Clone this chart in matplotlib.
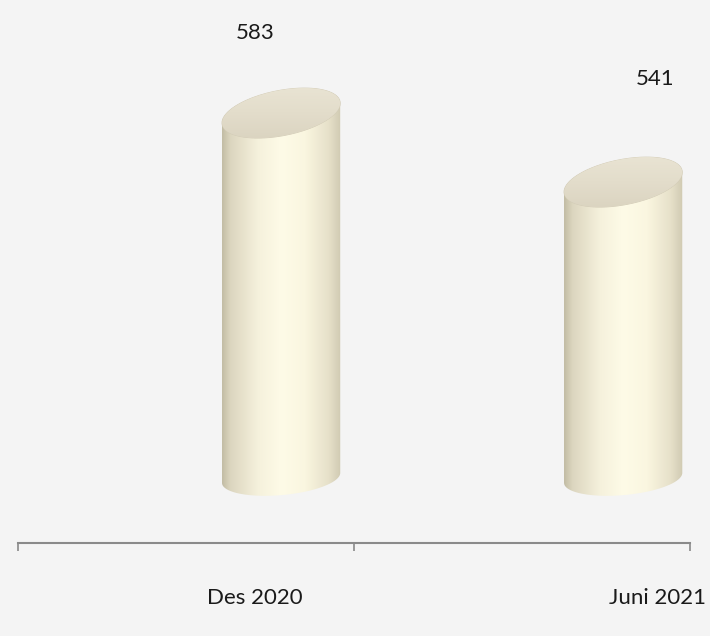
import numpy as np
import matplotlib.pyplot as plt
from matplotlib.colors import LinearSegmentedColormap
from matplotlib.path import Path
from matplotlib.patches import PathPatch

# data
periods = ['Des 2020', 'Juni 2021']
values = [583, 541]
floor = 361  # value at which the 3D cylinders stand

plt.rcParams['font.family'] = ['Lato', 'DejaVu Sans']

bg = '#f4f4f4'
fig = plt.figure(figsize=(7.1, 6.36), dpi=100)
fig.patch.set_facecolor(bg)
ax = fig.add_axes([0, 0, 1, 1])
ax.set_facecolor(bg)

xlim = (-0.5536, 1.5595)
ylim = (264.8, 651.8)

# cylinder look (3D perspective shifts the bars right of the category centre)
shift = [0.283, 0.301]
half_w = 0.176
b_top, tilt_top = 14.0, 6.0
b_bot, tilt_bot = 10.5, 3.0

body_cmap = LinearSegmentedColormap.from_list('body', [
    (0.0, '#c2bca4'), (0.07, '#dcd6bf'), (0.3, '#f5f1dc'), (0.5, '#fefbe7'),
    (0.7, '#faf6e0'), (0.9, '#e6e0c9'), (1.0, '#d0cab2')])
top_cmap = LinearSegmentedColormap.from_list('top', ['#d8d1bd', '#e3ddcb', '#ebe6d6'])


def ellipse_pts(cx, cy, a, b, tilt, t):
    return np.column_stack([cx + a * np.cos(t), cy + b * np.sin(t) + tilt * np.cos(t)])


for i, v in enumerate(values):
    cx = i + shift[i]
    x0, x1 = cx - half_w, cx + half_w
    lower = ellipse_pts(cx, floor, half_w, b_bot, tilt_bot, np.linspace(np.pi, 2 * np.pi, 80))
    upper = ellipse_pts(cx, v, half_w, b_top, tilt_top, np.linspace(0, np.pi, 80))
    outline = np.vstack([lower, upper, lower[:1]])
    body = PathPatch(Path(outline), facecolor='none', edgecolor='none')
    ax.add_patch(body)
    grad = np.tile(np.linspace(0, 1, 256), (64, 1))
    im = ax.imshow(grad, cmap=body_cmap, extent=[x0, x1, floor - 30, v + 30],
                   aspect='auto', interpolation='bicubic', zorder=2)
    im.set_clip_path(body)

    lid_pts = ellipse_pts(cx, v, half_w, b_top, tilt_top, np.linspace(0, 2 * np.pi, 160))
    lid = PathPatch(Path(lid_pts), facecolor='none', edgecolor='#d2cbb6', lw=0.6, zorder=3)
    ax.add_patch(lid)
    lgrad = np.linspace(0, 1, 64)[:, None] * np.ones((1, 64))
    im2 = ax.imshow(lgrad, cmap=top_cmap, origin='lower',
                    extent=[x0, x1, v - b_top - tilt_top - 2, v + b_top + tilt_top + 2],
                    aspect='auto', interpolation='bicubic', zorder=3)
    im2.set_clip_path(lid)

# value labels
label_x = [0.205, 1.396]
label_lift = [49, 63]
for i, v in enumerate(values):
    ax.text(label_x[i], v + label_lift[i], str(v), ha='center', va='center',
            fontsize=16, color='#1a1a1a')

# category axis
axis_y = 321.4
ax.spines[['top', 'right', 'left']].set_visible(False)
ax.spines['bottom'].set_position(('data', axis_y))
ax.spines['bottom'].set_bounds(-0.5, 1.5)
ax.spines['bottom'].set_color('#8a8a8a')
ax.spines['bottom'].set_linewidth(1.5)
ax.set_xticks([-0.5, 0.5, 1.5])
ax.set_xticklabels([])
ax.tick_params(axis='x', direction='out', length=6, width=1.2, color='#8a8a8a')
ax.set_yticks([])

cat_x = [0.205, 1.402]
for i, p in enumerate(periods):
    ax.text(cat_x[i], 287.9, p, ha='center', va='center', fontsize=16, color='#1a1a1a')

ax.set_xlim(*xlim)
ax.set_ylim(*ylim)

fig.savefig('out.png', dpi=100, facecolor=bg)
